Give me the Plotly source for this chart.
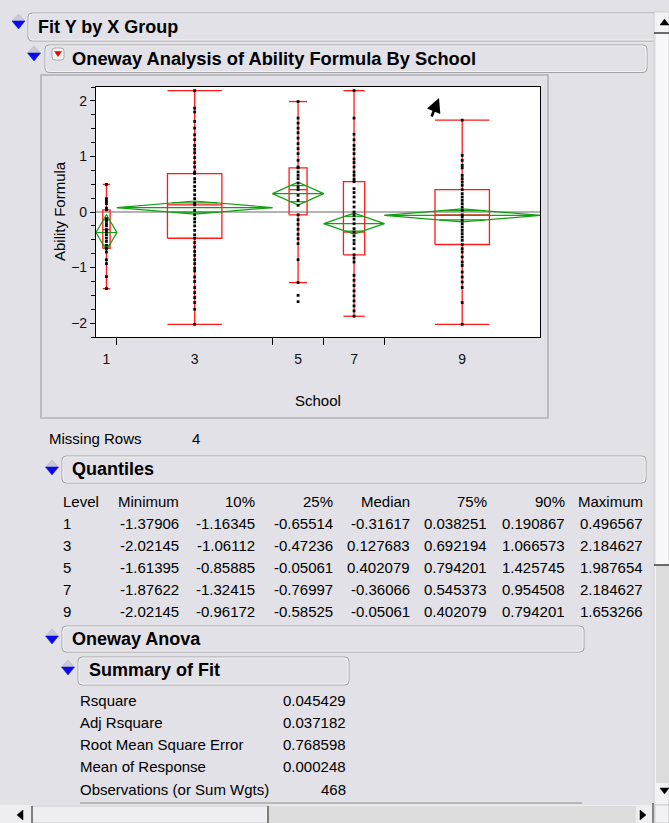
import numpy as np
import plotly.graph_objects as go

# ---------------- data ----------------
schools = ["1", "3", "5", "7", "9"]
counts = [22, 164, 54, 64, 164]
q_minimum = [-1.37906, -2.02145, -1.61395, -1.87622, -2.02145]
q_10 = [-1.16345, -1.06112, -0.85885, -1.32415, -0.96172]
q_25 = [-0.65514, -0.47236, -0.05061, -0.76997, -0.58525]
q_median = [-0.31617, 0.127683, 0.402079, -0.36066, -0.05061]
q_75 = [0.038251, 0.692194, 0.794201, 0.545373, 0.402079]
q_90 = [0.190867, 1.066573, 1.425745, 0.954508, 0.794201]
q_maximum = [0.496567, 2.184627, 1.987654, 2.184627, 1.653266]
group_means = [-0.37, 0.08, 0.33, -0.21, -0.06]

dots_1 = [0.496567, 0.24, 0.190867, 0.15, 0.07, 0.038251, -0.12, -0.16, -0.21, -0.25,
          -0.31617, -0.36, -0.41, -0.47, -0.53, -0.60, -0.65514, -0.72, -0.86, -0.93,
          -1.16345, -1.37906]
dots_3 = [2.184627, 1.87, 1.80, 1.63, 1.51, 1.39, 1.30, 1.20, 1.13, 1.066573, 0.98, 0.89,
          0.81, 0.72, 0.692194, 0.60, 0.54, 0.46, 0.39, 0.31, 0.24, 0.16, 0.127683, 0.03,
          -0.05, -0.12, -0.18, -0.25, -0.33, -0.41, -0.47236, -0.55, -0.63, -0.71, -0.78,
          -0.86, -0.93, -1.01, -1.06112, -1.17, -1.25, -1.36, -1.45, -1.54, -1.63, -1.75,
          -2.02145]
dots_5 = [1.987654, 1.69, 1.60, 1.51, 1.425745, 1.33, 1.23, 1.14, 1.05, 0.93, 0.81, 0.794201,
          0.72, 0.66, 0.60, 0.52, 0.45, 0.402079, 0.30, 0.21, 0.12, -0.05061, -0.14, -0.22,
          -0.31, -0.40, -0.48, -0.57, -0.85885, -1.27, -1.50, -1.61395]
dots_7 = [2.184627, 1.69, 1.40, 1.30, 1.20, 1.13, 1.05, 0.954508, 0.89, 0.81, 0.72, 0.66,
          0.59, 0.545373, 0.42, 0.35, 0.27, 0.18, 0.09, 0.0, -0.06, -0.13, -0.21, -0.30,
          -0.36066, -0.43, -0.51, -0.57, -0.66, -0.76997, -0.83, -0.90, -1.14, -1.23,
          -1.32415, -1.42, -1.51, -1.60, -1.69, -1.78, -1.87622]
dots_9 = [1.653266, 1.02, 0.93, 0.84, 0.794201, 0.66, 0.60, 0.54, 0.48, 0.402079, 0.33, 0.27,
          0.21, 0.15, 0.09, 0.03, -0.05061, -0.09, -0.15, -0.21, -0.27, -0.33, -0.39, -0.45,
          -0.51, -0.58525, -0.66, -0.72, -0.81, -0.90, -0.96172, -1.08, -1.17, -1.26, -1.36,
          -1.63, -2.02145]
group_dots = [dots_1, dots_3, dots_5, dots_7, dots_9]

y_ticks = [-2, -1, 0, 1, 2]
quant_headers = ["Level", "Minimum", "10%", "25%", "Median", "75%", "90%", "Maximum"]
fit_labels = ["Rsquare", "Adj Rsquare", "Root Mean Square Error", "Mean of Response",
              "Observations (or Sum Wgts)"]
fit_values = [0.045429, 0.037182, 0.768598, 0.000248, 468]
rmse = 0.768598
mean_response = 0.000248
t_crit = 1.965
missing_rows = 4

# ---------------- geometry helpers (pixels -> paper) ----------------
W, H = 669, 823
PL, PR, PT, PB = 96, 540, 87, 337
PW, PH = PR - PL, PB - PT


def xp(px):
    return (px - PL) / PW


def yp(py):
    return (PB - py) / PH


FONT = "Liberation Sans, Arial, sans-serif"
BG = "#e1e1e7"
RED = "#ff1a1a"
GREEN = "#10a010"

fig = go.Figure()

total = sum(counts)
bounds = np.cumsum([0] + counts)
centers = (bounds[:-1] + bounds[1:]) / 2.0

# overall mean line
fig.add_trace(go.Scatter(x=[0, total], y=[mean_response, mean_response], mode="lines",
                         line=dict(color="#9a9a9a", width=1.5), hoverinfo="skip"))

for i in range(len(schools)):
    n = counts[i]
    c = centers[i]
    left, right = bounds[i], bounds[i + 1]
    q1, q3, med = q_25[i], q_75[i], q_median[i]
    d = np.array(group_dots[i])
    iqr = q3 - q1
    lo_f, hi_f = q1 - 1.5 * iqr, q3 + 1.5 * iqr
    w_lo = min(d[d >= lo_f].min(), q1)
    w_hi = max(d[d <= hi_f].max(), q3)
    bw = 0.35 * n
    xl, xr = c - bw / 2, c + bw / 2
    bx = [xl, xr, xr, xl, xl, None, xl, xr, None, c, c, None, c, c, None,
          xl, xr, None, xl, xr]
    by = [q1, q1, q3, q3, q1, None, med, med, None, q3, w_hi, None, q1, w_lo, None,
          w_hi, w_hi, None, w_lo, w_lo]
    fig.add_trace(go.Scatter(x=bx, y=by, mode="lines", line=dict(color=RED, width=1.3),
                             hoverinfo="skip"))

    # means diamond
    m = group_means[i]
    h = t_crit * rmse / np.sqrt(n)
    ov = h / np.sqrt(2)
    ow = (n / 2.0) * (1 - 1 / np.sqrt(2))
    dx = [left, c, right, c, left, None, left, right, None, c - ow, c + ow, None, c - ow, c + ow]
    dy = [m, m + h, m, m - h, m, None, m, m, None, m + ov, m + ov, None, m - ov, m - ov]
    fig.add_trace(go.Scatter(x=dx, y=dy, mode="lines", line=dict(color=GREEN, width=1.2),
                             hoverinfo="skip"))

    # points
    fig.add_trace(go.Scatter(x=[c] * len(d), y=d, mode="markers",
                             marker=dict(symbol="square", size=2.8, color="black",
                                         line=dict(width=0)),
                             hoverinfo="skip"))

# ---------------- shapes (UI chrome) ----------------
shapes = []


def rrect(x0, y0, x1, y1, r=4, color="#a4a4a8", width=1.0, fill="rgba(0,0,0,0)"):
    rx, ry = r / PW, r / PH
    X0, X1, Y0, Y1 = xp(x0), xp(x1), yp(y0), yp(y1)
    path = (f"M {X0+rx},{Y0} L {X1-rx},{Y0} Q {X1},{Y0} {X1},{Y0-ry} "
            f"L {X1},{Y1+ry} Q {X1},{Y1} {X1-rx},{Y1} L {X0+rx},{Y1} "
            f"Q {X0},{Y1} {X0},{Y1+ry} L {X0},{Y0-ry} Q {X0},{Y0} {X0+rx},{Y0} Z")
    shapes.append(dict(type="path", xref="paper", yref="paper", path=path,
                       line=dict(color=color, width=width), fillcolor=fill, layer="above"))


def rect(x0, y0, x1, y1, fill, color=None, width=0):
    shapes.append(dict(type="rect", xref="paper", yref="paper",
                       x0=xp(x0), x1=xp(x1), y0=yp(y1), y1=yp(y0),
                       fillcolor=fill, line=dict(color=color or fill, width=width),
                       layer="above"))


def line(x0, y0, x1, y1, color, width=1):
    shapes.append(dict(type="line", xref="paper", yref="paper",
                       x0=xp(x0), x1=xp(x1), y0=yp(y0), y1=yp(y1),
                       line=dict(color=color, width=width), layer="above"))


def poly(pts, fill, color=None):
    path = "M " + " L ".join(f"{xp(a)},{yp(b)}" for a, b in pts) + " Z"
    shapes.append(dict(type="path", xref="paper", yref="paper", path=path,
                       fillcolor=fill, line=dict(color=color or fill, width=0.5),
                       layer="above"))


def disclosure(cx, cy):
    poly([(cx - 6.5, cy), (cx + 6.5, cy), (cx, cy - 7)], "#c9c9d6", "#b0b0c0")
    poly([(cx - 6.5, cy), (cx + 6.5, cy), (cx, cy + 8)], "#0a0aee")


# header boxes
rrect(28, 13, 662, 41)
rrect(29, 14, 661, 40, color="#f6f6f8", width=0.8)
rrect(45, 45, 647, 72.5)
rrect(46, 46, 646, 71.5, color="#f6f6f8", width=0.8)
# plot panel
rect(41, 75, 548, 418, "rgba(0,0,0,0)", "#b2b2b6", 1.6)
rrect(62, 456, 646, 483)
rrect(63, 457, 645, 482, color="#f6f6f8", width=0.8)
rrect(62, 626, 584, 652)
rrect(63, 627, 583, 651, color="#f6f6f8", width=0.8)
rrect(78, 657, 349, 685)
rrect(79, 658, 348, 684, color="#f6f6f8", width=0.8)
line(80, 803, 582, 803, "#a8a8ac", 1.5)

disclosure(18.5, 21)
disclosure(34, 53)
disclosure(52, 467)
disclosure(52, 636)
disclosure(68, 667)

# red popup button
rrect(52, 48, 64, 60, r=3, color="#9a9a9a", width=0.8, fill="#f4f4f4")
poly([(54.5, 51.5), (61.5, 51.5), (58, 56.5)], "#ee0000")

# vertical scrollbar
rect(654, 12, 669, 805, "#f2f2f4", "#c8c8cc", 0.8)
rect(655, 33, 669, 565, "#f7f7f9", "#d0d0d4", 0.8)
rect(656, 565, 669, 783, "#dcdcdc")
line(654, 33, 669, 33, "#404040", 1.5)
line(654, 565, 669, 565, "#404040", 1.5)
poly([(660, 25), (669, 25), (664.5, 19)], "black")
poly([(660, 788), (669, 788), (664.5, 794)], "black")
# horizontal scrollbar
rect(0, 805, 654, 823, "#eeeef0")
rect(32, 806, 268, 823, "#eeeef2", "#c0c0c4", 0.8)
rect(269, 806, 636, 823, "#dcdcdc")
line(32, 806, 32, 823, "#404040", 1.2)
line(268, 806, 268, 823, "#404040", 1.2)
line(653, 803, 653, 823, "#404040", 1.2)
rect(655, 805, 669, 823, "#f2f2f4", "#c0c0c4", 0.8)
poly([(17, 815), (23, 810), (23, 820)], "black")
poly([(646, 815), (640, 810), (640, 820)], "black")

# ---------------- annotations ----------------
ann = []


def text(x, y, s, size=15, bold=False, anchor="left", angle=0):
    ann.append(dict(x=xp(x), y=yp(y), xref="paper", yref="paper", text=(f"<b>{s}</b>" if bold else s),
                    showarrow=False, xanchor=anchor, yanchor="middle", textangle=angle,
                    font=dict(family=FONT, size=size, color="black")))


text(36, 27, "Fit Y by X Group", 18, True)
text(70, 59, "Oneway Analysis of Ability Formula By School", 18.3, True)
text(59, 211, "Ability Formula", 15, angle=-90, anchor="center")
text(318, 400, "School", 15, anchor="center")

text(47, 438, "Missing Rows", 15)
text(190, 438, str(missing_rows), 15)
text(70, 469, "Quantiles", 18, True)

col_right = [181, 257, 335, 412, 489, 567, 645]
row_y0, row_dy = 501, 22


def fmt(v):
    return f"{v:.6f}"[:8]


text(61, row_y0, quant_headers[0], 15)
for j, hname in enumerate(quant_headers[1:]):
    text(col_right[j], row_y0, hname, 15, anchor="right")
cols = [q_minimum, q_10, q_25, q_median, q_75, q_90, q_maximum]
for i, s in enumerate(schools):
    yy = row_y0 + row_dy * (i + 1)
    text(61, yy, s, 15)
    for j, col in enumerate(cols):
        text(col_right[j], yy, fmt(col[i]), 15, anchor="right")

text(70, 639, "Oneway Anova", 18, True)
text(87, 670, "Summary of Fit", 18, True)
fit_y = [700, 722, 745, 767, 789]
for lab, val, yy in zip(fit_labels, fit_values, fit_y):
    text(78, yy, lab, 15)
    sval = str(val) if isinstance(val, int) else f"{val:.6f}"
    text(348, yy, sval, 15, anchor="right")

# mouse cursor
ann.append(dict(x=xp(439), y=yp(98), xref="paper", yref="paper", text="", showarrow=True,
                ax=-8, ay=20, arrowhead=2, arrowsize=1.1, arrowwidth=2.6, arrowcolor="black"))

fig.update_layout(
    width=W, height=H, autosize=False,
    margin=dict(l=PL, r=W - PR, t=PT, b=H - PB, pad=0),
    paper_bgcolor=BG, plot_bgcolor="white", showlegend=False,
    font=dict(family=FONT, size=14, color="black"),
    shapes=shapes, annotations=ann,
    xaxis=dict(range=[0, total], tickmode="array", tickvals=list(centers), ticktext=schools,
               ticks="outside", ticklen=9, tickcolor="rgba(0,0,0,0)",
               showline=True, linecolor="black", linewidth=1.2, mirror=True,
               showgrid=False, zeroline=False, fixedrange=True,
               tickfont=dict(family=FONT, size=14, color="#111"),
               minor=dict(tickmode="array", tickvals=[float(b) for b in bounds[1:-1]],
                          ticks="outside", ticklen=7, tickcolor="black", tickwidth=1.2,
                          showgrid=False)),
    yaxis=dict(range=[-2.25, 2.25], tickmode="array", tickvals=y_ticks,
               ticks="outside", ticklen=5, tickcolor="black", tickwidth=1,
               showline=True, linecolor="black", linewidth=1.2, mirror=True,
               showgrid=False, zeroline=False, fixedrange=True,
               tickfont=dict(family=FONT, size=14, color="#111"),
               minor=dict(dtick=0.25, ticks="outside", ticklen=4, tickcolor="black",
                          showgrid=False)),
)

fig.write_html("out.html", config={"displayModeBar": False},
               post_script="document.body.style.margin='0';document.body.style.overflow='hidden';")
